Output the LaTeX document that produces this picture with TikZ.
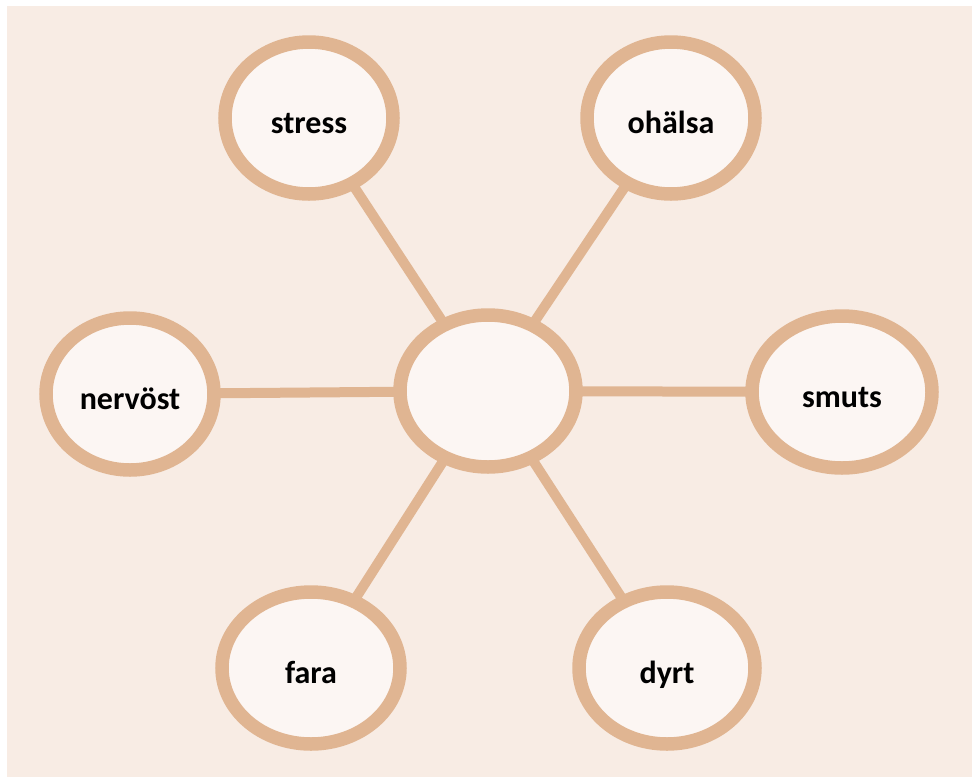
\documentclass[tikz,border=0pt]{standalone}
\usepackage{fontspec}
\setmainfont{Carlito}
\usetikzlibrary{shapes.geometric,backgrounds}
\definecolor{paper}{HTML}{F8ECE4}
\definecolor{ring}{HTML}{E0B592}
\definecolor{disc}{HTML}{FCF6F3}
\tikzset{
  bubble/.style={ellipse, draw=ring, line width=13.5pt, fill=disc,
    minimum width=#1, minimum height=152pt, inner sep=0pt,
    text height=31pt, text depth=0pt,
    font=\bfseries\fontsize{32}{36}\selectfont, text=black},
  bubble/.default=168pt,
  spoke/.style={draw=ring, line width=10pt},
}
\begin{document}
\begin{tikzpicture}[x=1pt,y=-1pt]
  \useasboundingbox (0,0) rectangle (972,777);

  % bubbles
  \node[bubble=176pt] (hub) at (488,391) {};
  \node[bubble] (stress) at (309,118) {stress};
  \node[bubble] (ohalsa) at (671,118) {ohälsa};
  \node[bubble] (nervost) at (130,394) {nervöst};
  \node[bubble=180pt] (smuts) at (842,392) {smuts};
  \node[bubble=178pt] (fara) at (311,668) {fara};
  \node[bubble=176pt] (dyrt) at (667,668) {dyrt};

  % page, tinted panel and spokes, all kept behind the bubbles
  \begin{scope}[on background layer]
    \fill[white] (0,0) rectangle (972,777);
    \fill[paper] (7,6) rectangle (972,777);
    \foreach \leaf in {stress,ohalsa,nervost,smuts,fara,dyrt}
      \draw[spoke] (hub.center) -- (\leaf.center);
  \end{scope}
\end{tikzpicture}
\end{document}
